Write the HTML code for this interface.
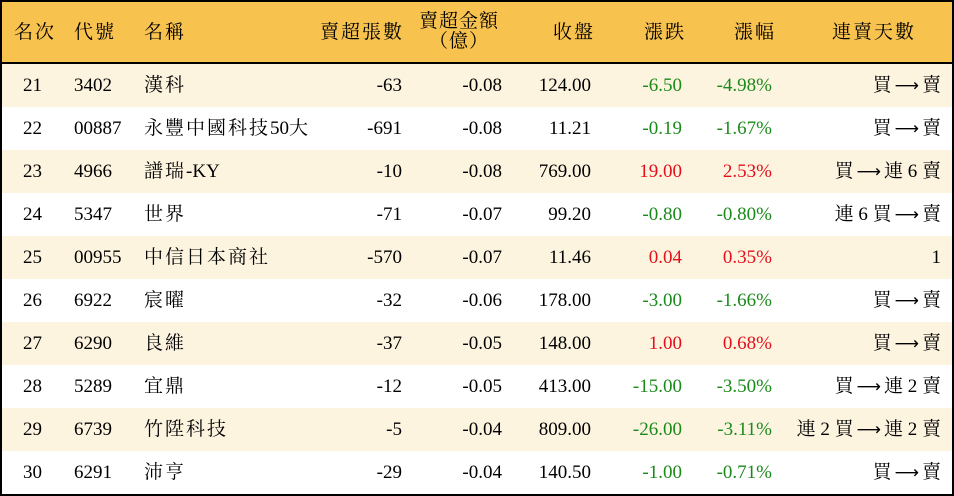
<!DOCTYPE html>
<html><head><meta charset="utf-8"><style>
*{margin:0;padding:0;box-sizing:border-box}
body{width:954px;height:496px;background:#fff;overflow:hidden;font-family:"Liberation Serif","Noto Serif CJK SC",serif;font-size:19px;color:#000}
#t{position:absolute;left:0;top:0;width:954px;height:496px;border:2px solid #000}
.hd{position:absolute;left:0;top:0;width:950px;height:62px;background:#F8C24F;border-bottom:2px solid #000}
.r{position:absolute;left:0;width:950px;height:43px}
.c{position:absolute;white-space:nowrap;line-height:20px}
.cj{letter-spacing:2px}
.l{letter-spacing:0}
.a{font-family:"DejaVu Sans",sans-serif;font-size:17px;letter-spacing:0;margin:0 3px}
.g{color:#1a8a1a}.rd{color:#e3101c}
</style></head><body><div id="t">
<div class="hd">
<div class="c cj" style="left:12px;top:21px">名次</div>
<div class="c cj" style="left:72px;top:21px">代號</div>
<div class="c cj" style="left:142px;top:21px">名稱</div>
<div class="c cj" style="right:548px;top:21px">賣超張數</div>
<div class="c" style="right:448px;top:10px;text-align:center;width:90px;letter-spacing:1px">賣超金額<br>（億）</div>
<div class="c cj" style="right:357px;top:21px">收盤</div>
<div class="c cj" style="right:266px;top:21px">漲跌</div>
<div class="c cj" style="right:176px;top:21px">漲幅</div>
<div class="c cj" style="right:36px;top:21px">連賣天數</div>
</div>
<div id="rows"></div>
</div>
<script>
var d=[["21","3402","漢科","-63","-0.08","124.00","-6.50","-4.98%","買 → 賣"],
["22","00887","永豐中國科技<span class=l>50</span>大","-691","-0.08","11.21","-0.19","-1.67%","買 → 賣"],
["23","4966","譜瑞<span class=l>-KY</span>","-10","-0.08","769.00","19.00","2.53%","買 → 連 6 賣"],
["24","5347","世界","-71","-0.07","99.20","-0.80","-0.80%","連 6 買 → 賣"],
["25","00955","中信日本商社","-570","-0.07","11.46","0.04","0.35%","1"],
["26","6922","宸曜","-32","-0.06","178.00","-3.00","-1.66%","買 → 賣"],
["27","6290","良維","-37","-0.05","148.00","1.00","0.68%","買 → 賣"],
["28","5289","宜鼎","-12","-0.05","413.00","-15.00","-3.50%","買 → 連 2 賣"],
["29","6739","竹陞科技","-5","-0.04","809.00","-26.00","-3.11%","連 2 買 → 連 2 賣"],
["30","6291","沛亨","-29","-0.04","140.50","-1.00","-0.71%","買 → 賣"]];
var h="";
d.forEach(function(r,i){
var top=62+i*43, bg=i%2==0?"#FDF4E0":"#fff", cl=r[6][0]=="-"?"g":"rd";
var s=r[8].replace(" → ",'<span class=a>⟶</span>');
h+='<div class="r" style="top:'+top+'px;background:'+bg+'">'+
'<div class="c" style="left:21px;top:12px">'+r[0]+'</div>'+
'<div class="c" style="left:72px;top:12px">'+r[1]+'</div>'+
'<div class="c cj" style="left:142px;top:12px">'+r[2]+'</div>'+
'<div class="c" style="right:550px;top:12px">'+r[3]+'</div>'+
'<div class="c" style="right:450px;top:12px">'+r[4]+'</div>'+
'<div class="c" style="right:361px;top:12px">'+r[5]+'</div>'+
'<div class="c '+cl+'" style="right:270px;top:12px">'+r[6]+'</div>'+
'<div class="c '+cl+'" style="right:180px;top:12px">'+r[7]+'</div>'+
'<div class="c" style="right:11px;top:12px;letter-spacing:0">'+s+'</div></div>';
});
document.getElementById("rows").innerHTML=h;
</script>
</body></html>
